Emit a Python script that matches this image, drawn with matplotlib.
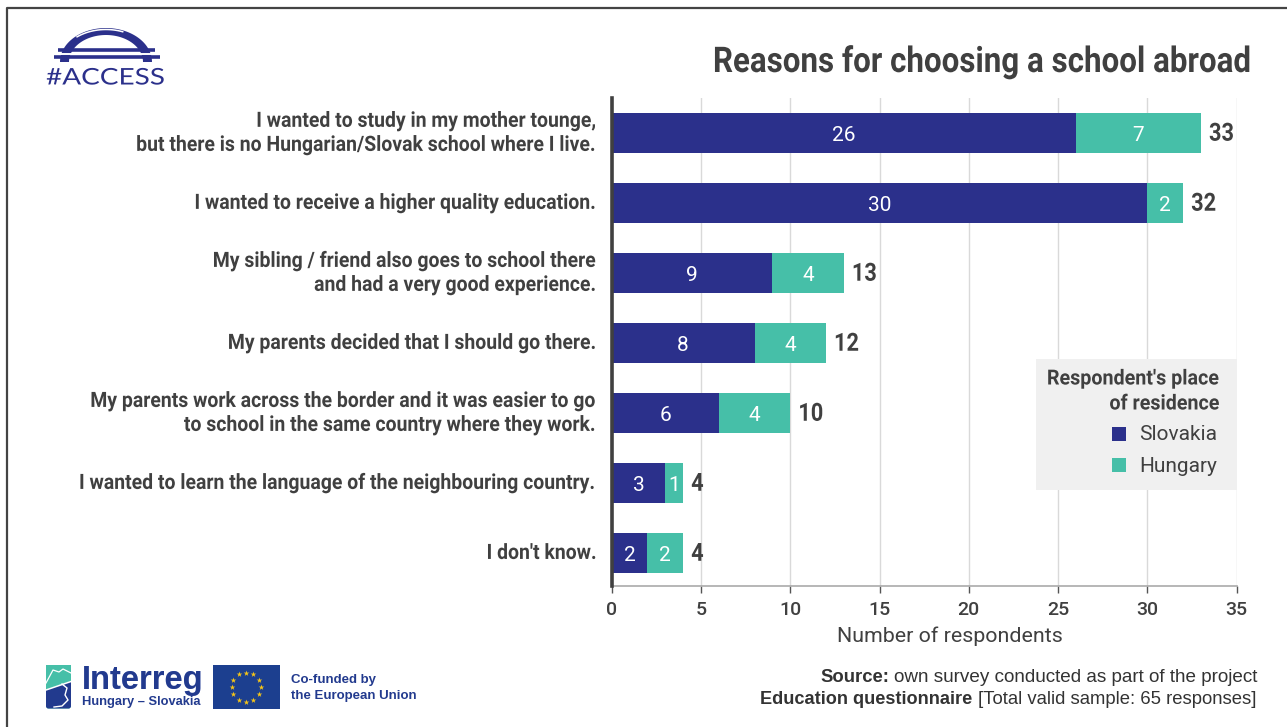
import matplotlib
matplotlib.use('Agg')
import matplotlib.pyplot as plt
import matplotlib.patches as mpatches
from matplotlib.patheffects import AbstractPathEffect
from matplotlib.transforms import Affine2D
import numpy as np

categories = [
    "I wanted to study in my mother tounge,\nbut there is no Hungarian/Slovak school where I live.",
    "I wanted to receive a higher quality education.",
    "My sibling / friend also goes to school there\nand had a very good experience.",
    "My parents decided that I should go there.",
    "My parents work across the border and it was easier to go\nto school in the same country where they work.",
    "I wanted to learn the language of the neighbouring country.",
    "I don't know.",
]
slovakia = [26, 30, 9, 8, 6, 3, 2]
hungary = [7, 2, 4, 4, 4, 1, 2]
x_ticks = [0, 5, 10, 15, 20, 25, 30, 35]

NAVY = '#2B308B'
TEAL = '#46BFA8'
DARK = '#404040'
LOGO_BLUE = '#223A8E'
W, H = 1287, 727


class Squeeze(AbstractPathEffect):
    """Scale glyph outlines horizontally about a fixed pixel column (no condensed font installed)."""

    def __init__(self, x0, sx):
        super().__init__()
        self.x0 = x0
        self.sx = sx

    def draw_path(self, renderer, gc, tpath, affine, rgbFace=None):
        squeeze = Affine2D().translate(-self.x0, 0).scale(self.sx, 1).translate(self.x0, 0)
        renderer.draw_path(gc, tpath, affine + squeeze, rgbFace)


fig = plt.figure(figsize=(W / 100, H / 100), dpi=100)
plt.rcParams['font.family'] = ['Roboto', 'DejaVu Sans']

# page frame, pixel coordinates with y pointing down
page = fig.add_axes([0, 0, 1, 1], zorder=0)
page.set_xlim(0, W)
page.set_ylim(H, 0)
page.axis('off')
page.plot([6.5, 6.5, W], [H, 8, 8], color='#444444', lw=1.6)

# chart
ax = fig.add_axes([611.7 / W, 1 - 586 / H, (1236.7 - 611.7) / W, (586 - 98) / H], zorder=1)
ax.patch.set_alpha(0)
y = np.arange(len(categories))
ax.barh(y, slovakia, height=0.56, color=NAVY, zorder=3)
ax.barh(y, hungary, left=slovakia, height=0.56, color=TEAL, zorder=3)
ax.set_xlim(0, 35)
ax.set_ylim(6.47, -0.5)
ax.set_yticks([])
ax.set_xticks(x_ticks)
ax.tick_params(axis='x', length=5, width=1, color='#555555', labelsize=14, labelcolor=DARK, pad=6)
for t in ax.get_xticklabels():
    t.set_fontweight('medium')
ax.grid(axis='x', color='#D9D9D9', lw=1, zorder=0)
ax.set_axisbelow(True)
for s in ['top', 'right']:
    ax.spines[s].set_visible(False)
ax.spines['bottom'].set_color('#AAAAAA')
ax.spines['bottom'].set_linewidth(1.2)
ax.spines['left'].set_color('#404040')
ax.spines['left'].set_linewidth(2.6)
ax.spines['left'].set_zorder(5)
ax.set_xlabel('Number of respondents', fontsize=15.4, color=DARK, labelpad=5.5, x=0.541)

for i, (a, b) in enumerate(zip(slovakia, hungary)):
    ax.text(a / 2, i + 0.03, str(a), color='white', ha='center', va='center', fontsize=15, zorder=4)
    ax.text(a + b / 2, i + 0.03, str(b), color='white', ha='center', va='center', fontsize=15, zorder=4)
    total_x = ax.transData.transform((a + b + 0.45, 0))[0]
    ax.text(a + b + 0.45, i + 0.01, str(a + b), color=DARK, ha='left', va='center', fontsize=18,
            fontweight='bold', zorder=4, path_effects=[Squeeze(total_x, 0.87)])
    ax.text(-0.85, i + 0.005, categories[i], color=DARK, ha='right', va='center', fontsize=15.2,
            fontweight='bold', linespacing=1.33, zorder=4, path_effects=[Squeeze(596.5, 0.92)])

# overlay for title, legend and logos
top = fig.add_axes([0, 0, 1, 1], zorder=2)
top.set_xlim(0, W)
top.set_ylim(H, 0)
top.axis('off')
top.text(1250, 62, 'Reasons for choosing a school abroad', ha='right', va='center', fontsize=25.5,
         fontweight='bold', color=DARK, path_effects=[Squeeze(1250, 0.884)])

# legend box
top.add_patch(mpatches.Rectangle((1036, 359), 201, 131, color='#F0F0F0', lw=0))
top.text(1220, 379, "Respondent's place", ha='right', va='center', fontsize=15, fontweight='bold',
         color=DARK, path_effects=[Squeeze(1220, 0.945)])
top.text(1220, 404, 'of residence', ha='right', va='center', fontsize=15, fontweight='bold',
         color=DARK, path_effects=[Squeeze(1220, 0.945)])
top.add_patch(mpatches.Rectangle((1112, 427), 14, 14, color=NAVY, lw=0))
top.add_patch(mpatches.Rectangle((1112, 458), 14, 14, color=TEAL, lw=0))
top.text(1139, 435, 'Slovakia', ha='left', va='center', fontsize=15, color=DARK)
top.text(1139, 466, 'Hungary', ha='left', va='center', fontsize=15, color=DARK)

# source note
SRC = ['Liberation Sans']
top.text(889, 677.5, 'Source:', ha='right', va='center', fontsize=13.3, fontweight='bold',
         family=SRC, color='#333333')
top.text(1257, 677.5, 'own survey conducted as part of the project', ha='right', va='center', fontsize=13.55,
         family=SRC, color='#333333')
top.text(760, 699.5, 'Education questionnaire', ha='left', va='center', fontsize=13.1, fontweight='bold',
         family=SRC, color='#333333')
top.text(1257, 699.5, '[Total valid sample: 65 responses]', ha='right', va='center', fontsize=13.3,
         family=SRC, color='#333333')

# bridge logo: arch, highlight and two deck bars
t = np.linspace(np.pi, 0, 60)
outer = np.column_stack([106 + 46 * np.cos(t), 62 - 34 * np.sin(t)])
inner = np.column_stack([106 + 37 * np.cos(t[::-1]), 62 - 27 * np.sin(t[::-1])])
top.add_patch(mpatches.Polygon(np.vstack([outer, inner]), color=NAVY, lw=0))
h = np.linspace(2.25, 1.2, 20)
top.plot(106 + 46 * np.cos(h), 62.5 - 33 * np.sin(h), color='white', lw=1.1)
top.plot([58, 155], [50, 50], color=NAVY, lw=2.6, solid_capstyle='butt')
top.plot([54, 160], [57, 57], color=NAVY, lw=2.6, solid_capstyle='butt')
top.plot([60, 153], [53.5, 53.5], color='white', lw=1.4, solid_capstyle='butt')
top.text(46, 78, '#ACCESS', ha='left', va='center', fontsize=16.5, family=['Lato'], color=NAVY,
         path_effects=[Squeeze(46, 1.22)])

# programme logo
top.add_patch(mpatches.FancyBboxPatch((46, 665.5), 25, 43, boxstyle='round,pad=0,rounding_size=2.5',
                                      color=TEAL, lw=0))
top.add_patch(mpatches.FancyBboxPatch((46, 680), 25, 28.5, boxstyle='round,pad=0,rounding_size=2.5',
                                      color=LOGO_BLUE, lw=0))
top.add_patch(mpatches.Polygon([[46, 665], [71, 665], [71, 681], [46, 690]], color=TEAL, lw=0))
top.plot([46, 71], [690, 681.5], color='white', lw=1.1)
top.plot([46, 53, 59, 63, 71], [683, 670, 672, 669, 673], color='white', lw=0.9)
top.plot([62, 67, 65, 68, 62, 54], [684, 688, 695, 700, 706, 707], color='white', lw=1)
top.text(81.5, 680, 'Interreg', ha='left', va='center', fontsize=23.5, fontweight='bold',
         family=['Liberation Sans'], color='#A9B6E0')
word = top.text(81.5, 680, 'Interreg', ha='left', va='center', fontsize=23.5, fontweight='bold',
                family=['Liberation Sans'], color=LOGO_BLUE)
word.set_clip_path(mpatches.Rectangle((0, 680), 300, 30, transform=top.transData))
top.text(82, 702, 'Hungary – Slovakia', ha='left', va='center', fontsize=9.3, fontweight='bold',
         family=['Liberation Sans'], color=LOGO_BLUE)

# flag with a ring of twelve stars
top.add_patch(mpatches.Rectangle((213, 664.5), 66.5, 44.5, color='#1C3F8F', lw=0))
star_angles = np.radians(np.arange(12) * 30)
top.scatter(246 + 14.5 * np.sin(star_angles), 687 - 14.5 * np.cos(star_angles),
            marker='*', s=18, color='#F5C518', lw=0)

top.text(291, 680, 'Co-funded by', ha='left', va='center', fontsize=9.5, fontweight='bold',
         family=['Liberation Sans'], color=LOGO_BLUE)
top.text(291, 696, 'the European Union', ha='left', va='center', fontsize=9.5, fontweight='bold',
         family=['Liberation Sans'], color=LOGO_BLUE)

fig.savefig('out.png', dpi=100)
